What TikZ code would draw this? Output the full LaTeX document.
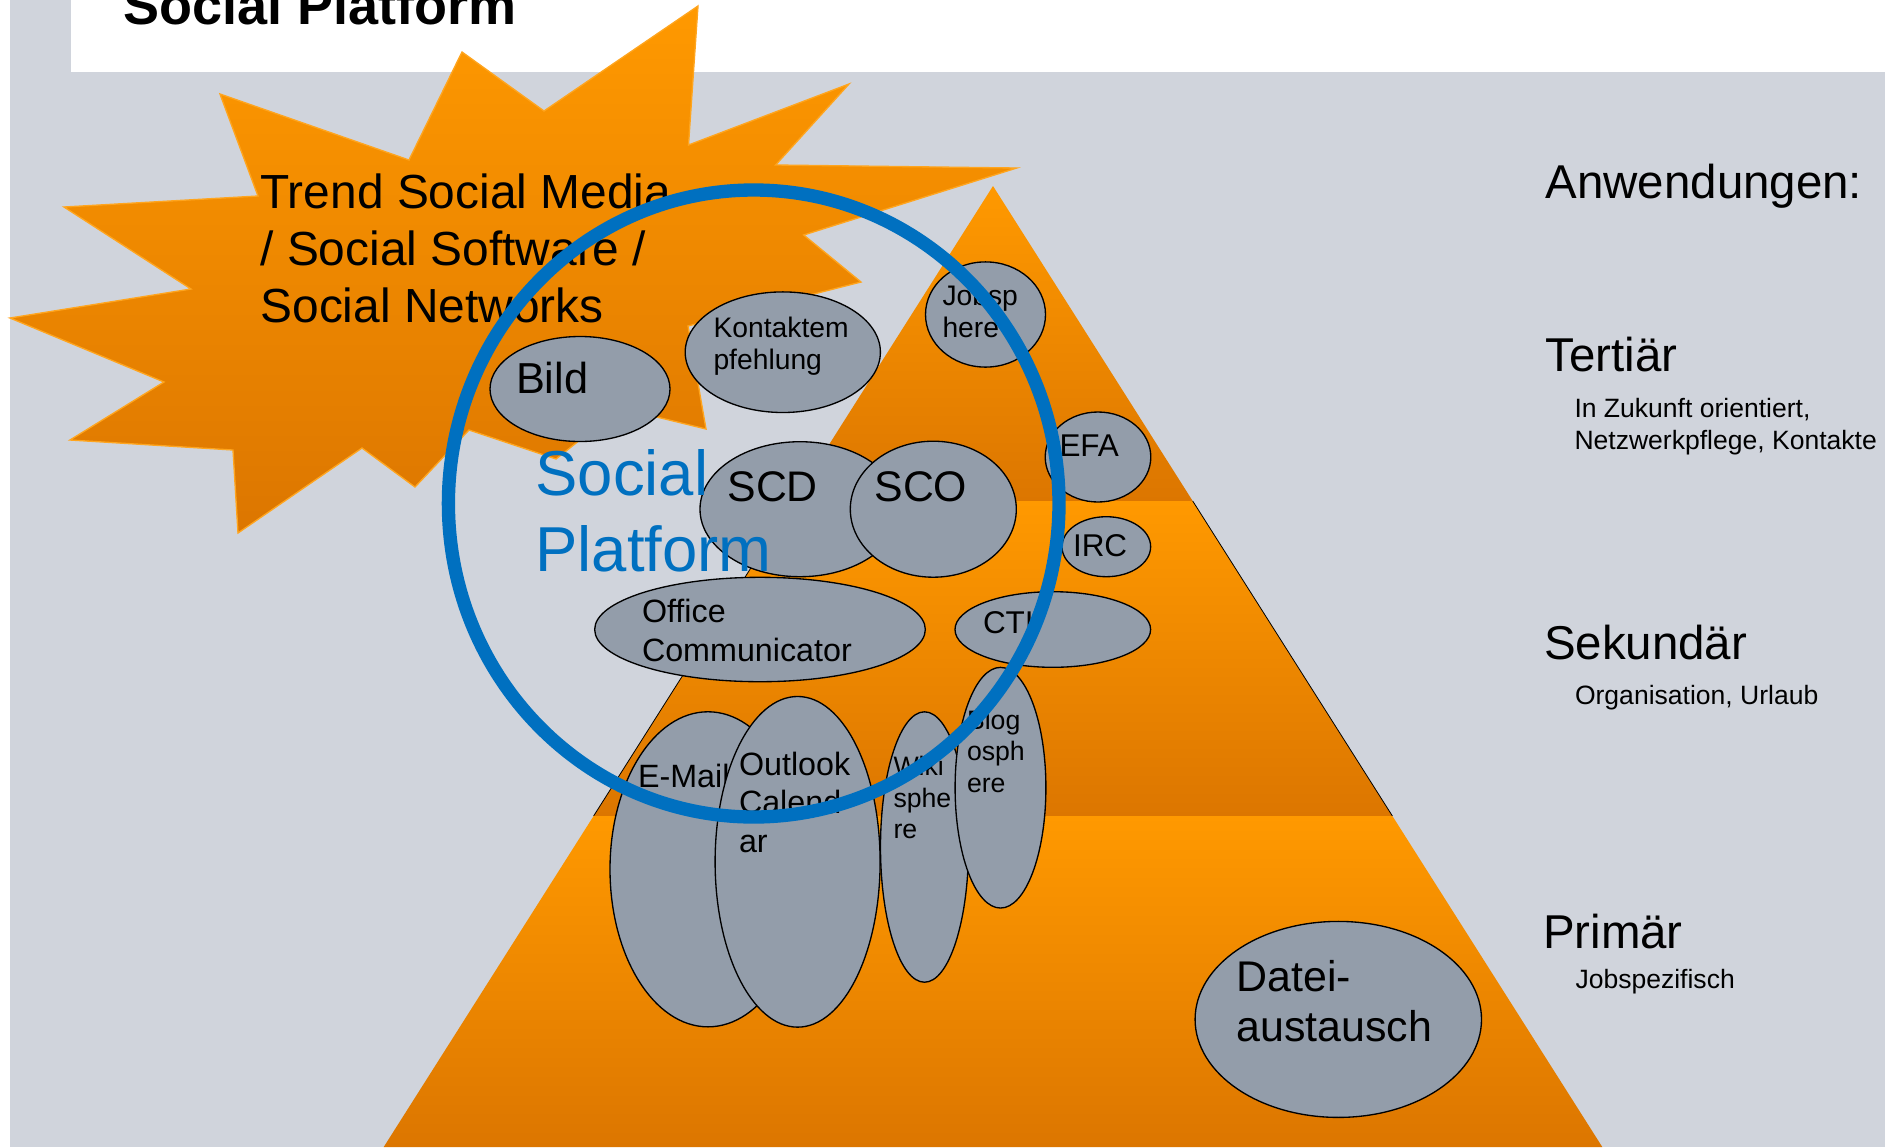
\documentclass[tikz,border=0pt]{standalone}
\usepackage{fontspec}
\setmainfont{Liberation Sans}
\usetikzlibrary{shapes.geometric}

\tikzset{every picture/.style={line width=0.75pt}}

\definecolor{slidegray}{RGB}{208,212,220}
\definecolor{bubblegray}{RGB}{147,157,170}
\definecolor{orangetop}{RGB}{255,153,0}
\definecolor{orangebot}{RGB}{220,118,0}
\definecolor{orangeedge}{RGB}{255,165,30}
\definecolor{platblue}{RGB}{0,112,192}

\tikzset{
  bubble/.style={ellipse, draw=black, line width=1pt, fill=bubblegray, inner sep=0pt},
  lbl/.style={inner sep=0pt, align=left, text=black},
  tier/.style={top color=orangetop, bottom color=orangebot},
}

\begin{document}
\begin{tikzpicture}[x=0.75pt,y=0.75pt,yscale=-1,xscale=1]
\useasboundingbox (0,0) rectangle (1885,1147);

%Shape: Rectangle
\fill[white] (0,0) rectangle (1885,1147);
\fill[slidegray] (10,0) rectangle (1885,1147);
\fill[white] (71,0) rectangle (1885,72);
% Text Node
\node[lbl, anchor=base west, font=\fontsize{40.5}{47}\selectfont\bfseries] (title) at (123,24) {Social Platform};

%Shape: Pyramid
\path[tier] (993,186) -- (1192.7,501) -- (793.3,501) -- cycle;
\path[tier] (793.3,501) -- (1192.7,501) -- (1392.4,816) -- (593.6,816) -- cycle;
\draw[line width=0.6] (793.3,501) -- (593.6,816) (1192.7,501) -- (1392.4,816);
\path[tier] (593.6,816) -- (1392.4,816) -- (1602.3,1147) -- (383.7,1147) -- cycle;

%Shape: Star
\draw[draw=orangeedge, line width=1, top color=orangetop, bottom color=orangebot]
  (698,6) -- (688.5,145) -- (849,84) -- (775.6,165) -- (1016.7,168) -- (803.7,235)
  -- (861,282) -- (688,326) -- (706,429) -- (620,408) -- (556,459) -- (469,430)
  -- (415,487) -- (362,448) -- (238,533) -- (233,450) -- (70,440) -- (164,382)
  -- (10,318) -- (191,289) -- (64,207) -- (258,196) -- (220,94) -- (409,160)
  -- (462,52) -- (544,111) -- cycle;
% Text Node
\node[lbl, anchor=north west, font=\fontsize{35.9}{42.5}\selectfont] (trend) at (260,173.8) {Trend Social Media\\/ Social Software /\\Social Networks};

%Shape: Ellipse
\node[bubble, minimum width=135pt, minimum height=78.75pt] (bild) at (580,389) {};
\node[lbl, anchor=base west, font=\fontsize{32.5}{37}\selectfont] (tbild) at (515.5,393.3) {Bild};
\node[bubble, minimum width=146.4pt, minimum height=90.45pt] (kontakt) at (782.8,352.2) {};
\node[lbl, anchor=north west, font=\fontsize{21.2}{24}\selectfont] (tkontakt) at (713,316.6) {Kontaktem\\pfehlung};
\node[bubble, minimum width=90pt, minimum height=78.9pt] (jobsphere) at (985.5,314.5) {};
\node[lbl, anchor=north west, font=\fontsize{21.2}{24}\selectfont] (tjobsphere) at (942,284.9) {Jobsp\\here};
\node[bubble, minimum width=150pt, minimum height=101.25pt] (scd) at (800,509.2) {};
\node[lbl, anchor=base west, font=\fontsize{32.1}{37}\selectfont] (tscd) at (727,501.7) {SCD};
\node[bubble, minimum width=124.5pt, minimum height=102pt] (sco) at (933.3,509.2) {};
\node[lbl, anchor=base west, font=\fontsize{32.1}{37}\selectfont] (tsco) at (874,501.7) {SCO};
\node[bubble, minimum width=79.2pt, minimum height=67.5pt] (efa) at (1098,457) {};
\node[lbl, anchor=base west, font=\fontsize{23.6}{27}\selectfont] (tefa) at (1059,456.2) {EFA};
\node[bubble, minimum width=66.5pt, minimum height=45pt] (irc) at (1106.3,546.7) {};
\node[lbl, anchor=base west, font=\fontsize{23.6}{27}\selectfont] (tirc) at (1072.5,556.7) {IRC};
\node[bubble, minimum width=146.7pt, minimum height=56.7pt] (cti) at (1052.8,629.5) {};
\node[lbl, anchor=base west, font=\fontsize{23.6}{27}\selectfont] (tcti) at (982.5,633.5) {CTI};
\node[bubble, minimum width=248pt, minimum height=78.3pt] (office) at (760,629.5) {};
\node[lbl, anchor=north west, font=\fontsize{24.2}{28.9}\selectfont] (toffice) at (641.5,598.7) {Office\\Communicator};
\node[bubble, minimum width=147pt, minimum height=236.3pt] (email) at (708,869.3) {};
\node[lbl, anchor=base west, font=\fontsize{24.2}{28.9}\selectfont] (temail) at (637.5,787.7) {E-Mail};
\node[bubble, minimum width=123.75pt, minimum height=248pt] (outlook) at (797.6,861.8) {};
\node[lbl, anchor=north west, font=\fontsize{24.2}{28.9}\selectfont] (toutlook) at (738.5,751.4) {Outlook\\Calend\\ar};
\node[bubble, minimum width=66pt, minimum height=202.8pt] (wiki) at (924.5,847) {};
\node[lbl, anchor=north west, font=\fontsize{20}{23.6}\selectfont] (twiki) at (893,755.9) {Wiki\\sphe\\re};
\node[bubble, minimum width=68.1pt, minimum height=180.5pt] (blog) at (1000.5,787.7) {};
\node[lbl, anchor=north west, font=\fontsize{20}{23.6}\selectfont] (tblog) at (966.5,709.5) {Blog\\osph\\ere};
\node[bubble, minimum width=214.8pt, minimum height=147pt] (datei) at (1338.3,1019.4) {};
\node[lbl, anchor=north west, font=\fontsize{32.2}{37.1}\selectfont] (tdatei) at (1236,960.3) {Datei-\\austausch};

% Text Node
\node[lbl, anchor=north west, text=platblue, font=\fontsize{47.6}{57.5}\selectfont] (platform) at (535,448.6) {Social\\Platform};

%Shape: Ring
\draw[platblue, line width=10] (753.7,503.5) ellipse (305.3 and 313.5);

% Text Node
\node[lbl, anchor=base west, font=\fontsize{35.6}{42}\selectfont] (anw) at (1545,198.7) {Anwendungen:};
\node[lbl, anchor=base west, font=\fontsize{35.6}{42}\selectfont] (tert) at (1545,371) {Tertiär};
\node[lbl, anchor=north west, font=\fontsize{19.9}{24.1}\selectfont] (tertsub) at (1574,397.5) {In Zukunft orientiert,\\Netzwerkpflege, Kontakte};
\node[lbl, anchor=base west, font=\fontsize{35.6}{42}\selectfont] (sek) at (1543.5,659.7) {Sekundär};
\node[lbl, anchor=base west, font=\fontsize{19.9}{24.1}\selectfont] (seksub) at (1574.5,704) {Organisation, Urlaub};
\node[lbl, anchor=base west, font=\fontsize{35.6}{42}\selectfont] (prim) at (1542.5,948.5) {Primär};
\node[lbl, anchor=base west, font=\fontsize{19.9}{24.1}\selectfont] (primsub) at (1575,988.6) {Jobspezifisch};

\end{tikzpicture}
\end{document}
